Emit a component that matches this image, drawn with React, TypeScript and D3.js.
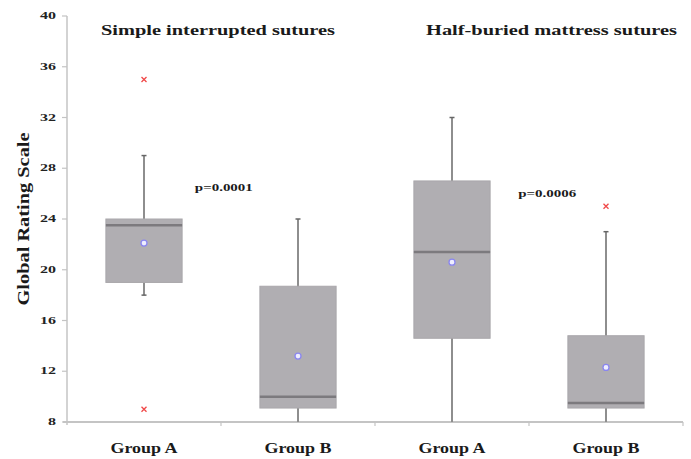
import { useEffect, useRef } from 'react';
import * as d3 from 'd3';

const categories = ['A1', 'B1', 'A2', 'B2'];
const groupLabels = ['Group A', 'Group B', 'Group A', 'Group B'];
const whiskerLow = [18, 8, 8, 8];
const q1 = [19, 9.1, 14.6, 9.1];
const median = [23.5, 10, 21.4, 9.5];
const q3 = [24, 18.7, 27, 14.8];
const whiskerHigh = [29, 24, 32, 23];
const means = [22.1, 13.2, 20.6, 12.3];
const outliers = [
  { cat: 'A1', value: 35 },
  { cat: 'A1', value: 9 },
  { cat: 'B2', value: 25 },
];
const yTicks = [8, 12, 16, 20, 24, 28, 32, 36, 40];
const titles = ['Simple interrupted sutures', 'Half-buried mattress sutures'];
const pValues = [
  { label: 'p=0.0001', x: 0.33, value: 26.4 },
  { label: 'p=0.0006', x: 0.43, value: 25.9 },
];

const FONT = '"Liberation Serif", "Times New Roman", serif';

export default function App() {
  const svgRef = useRef<SVGSVGElement>(null);
  const width = 691;
  const height = 459;

  useEffect(() => {
    if (!svgRef.current) return;
    const svg = d3.select(svgRef.current);
    svg.selectAll('*').remove();

    const margin = { top: 16, right: 8, bottom: 37, left: 67 };

    const x = d3
      .scaleBand<string>()
      .domain(categories)
      .range([margin.left, width - margin.right])
      .padding(0);

    const y = d3
      .scaleLinear()
      .domain([8, 40])
      .range([height - margin.bottom, margin.top]);

    const boxW = x.bandwidth() * 0.495;
    const axisColor = '#c4c4c4';

    // the source picture is stretched sideways, so text gets a fixed length
    const stretched = (sel: any, len: number) =>
      sel.attr('textLength', len).attr('lengthAdjust', 'spacingAndGlyphs');

    // y axis
    svg
      .append('line')
      .attr('x1', margin.left)
      .attr('x2', margin.left)
      .attr('y1', y(40))
      .attr('y2', y(8) + 3)
      .attr('stroke', axisColor)
      .attr('stroke-width', 1.5);

    yTicks.forEach((t) => {
      svg
        .append('line')
        .attr('x1', margin.left - 5)
        .attr('x2', margin.left)
        .attr('y1', y(t))
        .attr('y2', y(t))
        .attr('stroke', axisColor)
        .attr('stroke-width', 1.2);
      const lbl = svg
        .append('text')
        .attr('x', 56)
        .attr('y', y(t) + 0.5)
        .attr('text-anchor', 'end')
        .attr('dominant-baseline', 'middle')
        .style('font-family', FONT)
        .style('font-weight', 'bold')
        .style('font-size', '11px')
        .style('fill', '#222')
        .text(t);
      stretched(lbl, String(t).length * 8);
    });

    // x axis
    svg
      .append('line')
      .attr('x1', margin.left - 4)
      .attr('x2', width - margin.right)
      .attr('y1', y(8))
      .attr('y2', y(8))
      .attr('stroke', axisColor)
      .attr('stroke-width', 2);

    categories.forEach((c) => {
      const bx = (x(c) ?? 0) + x.bandwidth();
      svg
        .append('line')
        .attr('x1', bx)
        .attr('x2', bx)
        .attr('y1', y(8))
        .attr('y2', y(8) + 4)
        .attr('stroke', axisColor)
        .attr('stroke-width', 1.2);
    });

    // boxes
    categories.forEach((c, i) => {
      const cx = (x(c) ?? 0) + x.bandwidth() / 2;
      const g = svg.append('g');

      g.append('line')
        .attr('x1', cx)
        .attr('x2', cx)
        .attr('y1', y(whiskerHigh[i]))
        .attr('y2', y(whiskerLow[i]))
        .attr('stroke', '#8e8e8e')
        .attr('stroke-width', 2);

      [whiskerHigh[i], whiskerLow[i]].forEach((v) => {
        if (v <= 8) return;
        g.append('line')
          .attr('x1', cx - 2.5)
          .attr('x2', cx + 2.5)
          .attr('y1', y(v))
          .attr('y2', y(v))
          .attr('stroke', '#666')
          .attr('stroke-width', 1.5);
      });

      g.append('rect')
        .attr('x', cx - boxW / 2)
        .attr('y', y(q3[i]))
        .attr('width', boxW)
        .attr('height', y(q1[i]) - y(q3[i]))
        .attr('fill', '#b0aeb2')
        .attr('stroke', '#a9a7ab')
        .attr('stroke-width', 1);

      g.append('line')
        .attr('x1', cx - boxW / 2)
        .attr('x2', cx + boxW / 2)
        .attr('y1', y(median[i]))
        .attr('y2', y(median[i]))
        .attr('stroke', '#7c7a7e')
        .attr('stroke-width', 2.5);

      g.append('circle')
        .attr('cx', cx)
        .attr('cy', y(means[i]))
        .attr('r', 3)
        .attr('fill', '#eeeeff')
        .attr('stroke', '#8a86f0')
        .attr('stroke-width', 1.3);

      const lbl = svg
        .append('text')
        .attr('x', cx)
        .attr('y', 453)
        .attr('text-anchor', 'middle')
        .style('font-family', FONT)
        .style('font-weight', 'bold')
        .style('font-size', '14px')
        .style('fill', '#1a1a1a')
        .text(groupLabels[i]);
      stretched(lbl, 67);
    });

    // outliers
    outliers.forEach((o) => {
      const cx = (x(o.cat) ?? 0) + x.bandwidth() / 2;
      const cy = y(o.value);
      const s = 2.5;
      svg
        .append('path')
        .attr('d', `M${cx - s},${cy - s}L${cx + s},${cy + s}M${cx - s},${cy + s}L${cx + s},${cy - s}`)
        .attr('stroke', '#f04848')
        .attr('stroke-width', 1.3)
        .attr('fill', 'none');
    });

    // panel titles
    [
      { text: titles[0], x: 101, len: 234 },
      { text: titles[1], x: 426, len: 251 },
    ].forEach((t) => {
      const el = svg
        .append('text')
        .attr('x', t.x)
        .attr('y', 35)
        .style('font-family', FONT)
        .style('font-weight', 'bold')
        .style('font-size', '15.5px')
        .style('fill', '#1a1a1a')
        .text(t.text);
      stretched(el, t.len);
    });

    // p-values, placed between box pairs
    const pairs = [
      ['A1', 'B1'],
      ['A2', 'B2'],
    ];
    pValues.forEach((p, i) => {
      const left = (x(pairs[i][0]) ?? 0) + x.bandwidth() / 2;
      const right = (x(pairs[i][1]) ?? 0) + x.bandwidth() / 2;
      const el = svg
        .append('text')
        .attr('x', left + (right - left) * p.x)
        .attr('y', y(p.value))
        .attr('dominant-baseline', 'middle')
        .style('font-family', FONT)
        .style('font-weight', 'bold')
        .style('font-size', '11px')
        .style('fill', '#1a1a1a')
        .text(p.label);
      stretched(el, 58);
    });

    // y axis title
    const yTitle = svg
      .append('text')
      .attr('transform', `translate(25, ${(y(8) + y(40)) / 2}) rotate(-90)`)
      .attr('text-anchor', 'middle')
      .attr('dominant-baseline', 'middle')
      .style('font-family', FONT)
      .style('font-weight', 'bold')
      .style('font-size', '17px')
      .style('fill', '#1a1a1a')
      .text('Global Rating Scale');
    stretched(yTitle, 173);
  }, []);

  return (
    <svg
      ref={svgRef}
      width={width}
      height={height}
      style={{ position: 'absolute', left: 0, top: 0, background: '#fff' }}
    />
  );
}
